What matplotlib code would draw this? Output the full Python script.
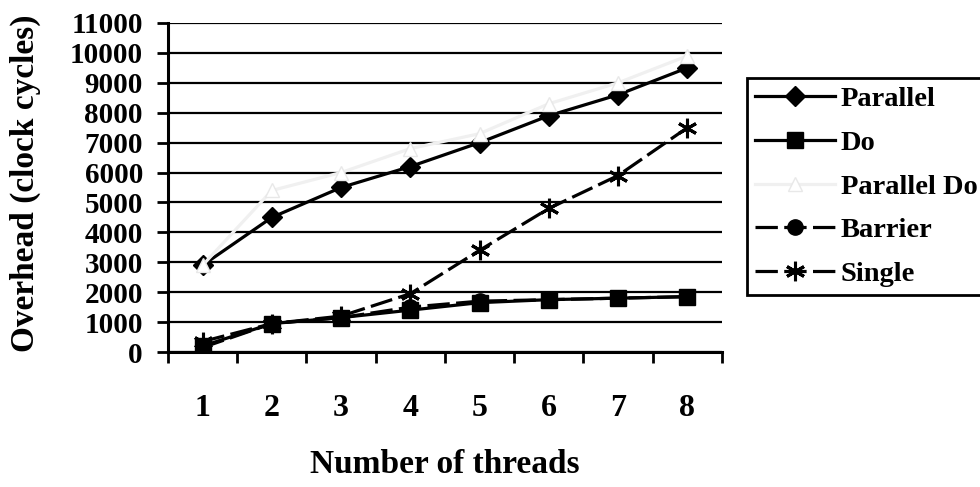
import matplotlib
matplotlib.use("Agg")
import matplotlib.pyplot as plt
import numpy as np

plt.rcParams['font.family'] = ['Liberation Serif', 'DejaVu Serif']
plt.rcParams['font.weight'] = 'bold'
plt.rcParams['axes.labelweight'] = 'bold'

# data
threads = [1, 2, 3, 4, 5, 6, 7, 8]
parallel = [2900, 4500, 5500, 6200, 7000, 7900, 8600, 9500]
do_loop = [200, 950, 1150, 1400, 1650, 1750, 1800, 1850]
parallel_do = [2900, 5400, 6000, 6800, 7300, 8300, 9000, 9900]
barrier = [150, 950, 1150, 1500, 1700, 1750, 1800, 1850]
single = [350, 950, 1200, 1950, 3400, 4800, 5900, 7500]
y_ticks = list(range(0, 11001, 1000))

fig = plt.figure(figsize=(9.8, 4.87), dpi=100)
ax = fig.add_axes([0.1714, 0.2772, 0.5653, 0.6756])

x = np.arange(1, len(threads) + 1)
dash = (7, 2)

ax.plot(x, parallel, color='black', lw=2.3, marker='D', ms=10, label='Parallel', zorder=3)
ax.plot(x, do_loop, color='black', lw=2.3, marker='s', ms=11, label='Do', zorder=4)
ax.plot(x, parallel_do, color='#f0f0f0', lw=2.3, marker='^', ms=10,
        mfc='white', mec='#e8e8e8', label='Parallel Do', zorder=5)
ax.plot(x, barrier, color='black', lw=2.3, marker='o', ms=11, dashes=dash,
        label='Barrier', zorder=6)
ax.plot(x, single, color='black', lw=2.3, marker=(6, 2, 0), ms=14, mew=2.2,
        dashes=dash, label='Single', zorder=7)

ax.set_xlim(0.5, len(threads) + 0.5)
ax.set_ylim(0, 11000)
ax.set_yticks(y_ticks)
ax.set_yticklabels([str(v) for v in y_ticks])
ax.yaxis.grid(True, color='black', lw=1.6)
ax.set_axisbelow(True)

# Excel style category axis: ticks between categories, labels centred
ax.set_xticks(np.arange(0.5, len(threads) + 1, 1.0))
ax.set_xticklabels([])
ax.set_xticks(x, minor=True)
ax.set_xticklabels([str(t) for t in threads], minor=True)
ax.tick_params(axis='x', which='major', length=8, width=2, direction='out')
ax.tick_params(axis='x', which='minor', length=0, pad=30, labelsize=23)
ax.tick_params(axis='y', length=8, width=2, direction='out', pad=10, labelsize=21)

for s in ['top', 'right']:
    ax.spines[s].set_visible(False)
ax.spines['left'].set_linewidth(2.2)
ax.spines['bottom'].set_linewidth(2.2)

ax.set_xlabel('Number of threads', fontsize=24)
ax.xaxis.set_label_coords(0.5, -0.343)
ax.xaxis.label.set_va('center')
ax.set_ylabel('Overhead (clock cycles)', fontsize=24)
ax.yaxis.set_label_coords(-0.258, 0.514)
ax.yaxis.label.set_va('center')

leg = fig.legend(loc='upper left', bbox_to_anchor=(0.762, 0.84), fontsize=20.5,
                 handlelength=2.8, handletextpad=0.2, borderpad=0.3,
                 labelspacing=0.62, borderaxespad=0, fancybox=False,
                 framealpha=1, edgecolor='black')
leg.get_frame().set_linewidth(2)

fig.savefig('out.png', dpi=100)
